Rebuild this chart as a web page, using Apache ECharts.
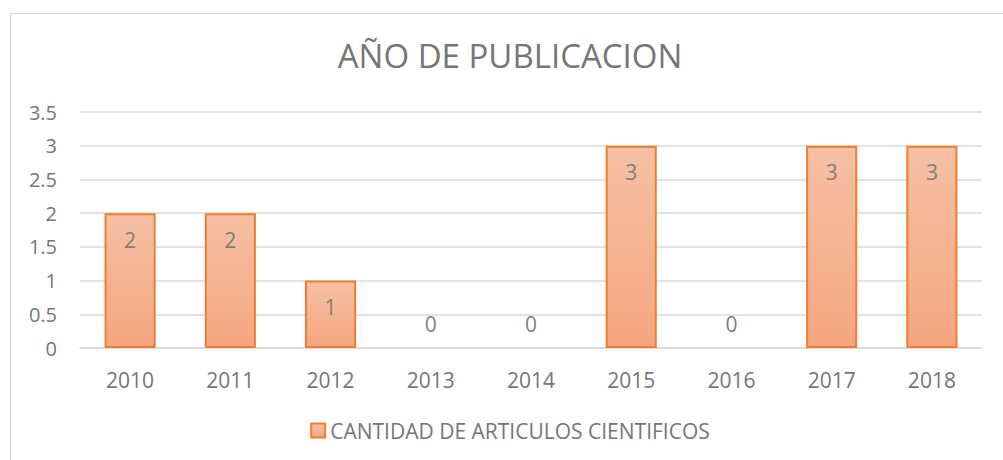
<!DOCTYPE html>
<html>
<head>
<meta charset="utf-8">
<script src="https://cdn.jsdelivr.net/npm/echarts@6/dist/echarts.min.js"></script>
<style>
  html, body { margin: 0; padding: 0; background: #fff; overflow: hidden; }
  #frame { position: absolute; left: 10px; top: 13px; width: 1000px; height: 460px; border: 1px solid #d9d9d9; box-sizing: border-box; }
  #chart { position: absolute; left: 10px; top: 0; width: 1000px; height: 460px; }
</style>
</head>
<body>
<div id="frame"></div>
<div id="chart"></div>
<script>
var years = ['2010', '2011', '2012', '2013', '2014', '2015', '2016', '2017', '2018'];
var articles = [2, 2, 1, 0, 0, 3, 0, 3, 3];
var seriesName = 'CANTIDAD DE ARTICULOS CIENTIFICOS';

(function () {
  var ink = '#767676';
  var rule = '#d9d9d9';
  var font = 'Open Sans';
  var fill = new echarts.graphic.LinearGradient(0, 0, 0, 1, [
    { offset: 0, color: '#f6c0a3' },
    { offset: 1, color: '#f5a680' }
  ]);

  var chart = echarts.init(document.getElementById('chart'), null, { renderer: 'svg' });
  chart.setOption({
    animation: false,
    textStyle: { fontFamily: font },
    title: {
      text: 'AÑO DE PUBLICACION',
      left: 'center',
      top: 34,
      textStyle: { color: ink, fontSize: 33, fontWeight: 'normal', fontFamily: font }
    },
    legend: {
      bottom: 14,
      left: 'center',
      itemWidth: 14,
      itemHeight: 14,
      itemGap: 6,
      icon: 'rect',
      textStyle: { color: ink, fontSize: 21, fontFamily: font },
      data: [seriesName]
    },
    grid: { left: 70, right: 28, top: 112, bottom: 112 },
    xAxis: {
      type: 'category',
      data: years,
      axisTick: { show: false },
      axisLine: { lineStyle: { color: rule, width: 1.5 } },
      axisLabel: { color: ink, fontSize: 21, margin: 21 }
    },
    yAxis: {
      type: 'value',
      min: 0,
      max: 3.5,
      interval: 0.5,
      axisLine: { show: false },
      axisTick: { show: false },
      axisLabel: { color: ink, fontSize: 20, margin: 23 },
      splitLine: { lineStyle: { color: rule, width: 1.5 } }
    },
    series: [
      {
        name: seriesName,
        type: 'bar',
        barWidth: '51%',
        data: articles.map(function (v) {
          return {
            value: v,
            itemStyle: v === 0 ? { borderWidth: 0 } : {},
            label: v === 0 ? { position: 'top', distance: 14 } : { position: 'insideTop', distance: 16 }
          };
        }),
        itemStyle: { color: fill, borderColor: '#ed7d31', borderWidth: 2 },
        label: { show: true, color: '#7f7f7f', fontSize: 21, fontFamily: font }
      }
    ]
  });
})();
</script>
</body>
</html>
